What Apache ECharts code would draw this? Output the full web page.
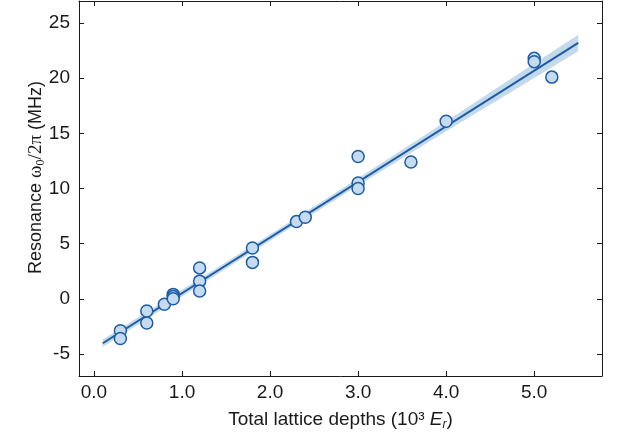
<!DOCTYPE html>
<html>
<head>
<meta charset="utf-8">
<style>
  html, body { margin: 0; padding: 0; background: #fff; }
  #chart { width: 617px; height: 439px; }
</style>
<script src="https://cdn.jsdelivr.net/npm/echarts@6/dist/echarts.min.js"></script>
</head>
<body>
<div id="chart"></div>
<script>
// Measured resonance vs total lattice depth
const depthX = [0.3, 0.3, 0.6, 0.6, 0.8, 0.9, 0.9, 0.9, 1.2, 1.2, 1.2, 1.8, 1.8, 2.3, 2.4, 3.0, 3.0, 3.0, 3.6, 4.0, 5.0, 5.0, 5.2];
const resonanceY = [-2.9, -3.6, -1.1, -2.2, -0.5, 0.4, 0.2, 0.0, 2.8, 1.6, 0.7, 4.6, 3.3, 7.0, 7.4, 12.9, 10.5, 10.0, 12.4, 16.1, 21.8, 21.5, 20.1];

// Linear fit endpoints
const fitX = [0.1, 5.5];
const fitY = [-4.03, 23.2];

// Confidence band around the fit
const bandX = [0.1, 1.0, 2.0, 3.0, 4.0, 5.0, 5.5];
const bandLow = [-4.38, 0.21, 5.27, 10.28, 15.19, 20.03, 22.45];
const bandHigh = [-3.68, 0.81, 5.83, 10.92, 16.09, 21.33, 23.95];

// Tick positions
const xTicks = [0, 1, 2, 3, 4, 5];
const yTicks = [-5, 0, 5, 10, 15, 20, 25];

const sans = '"Liberation Sans", Arial, Helvetica, sans-serif';
const serif = '"Liberation Serif", "Times New Roman", serif';
const black = '#1a1a1a';
const lineColor = '#1c5ba5';

const scatterData = depthX.map((x, i) => [x, resonanceY[i]]);
const fitData = fitX.map((x, i) => [x, fitY[i]]);
const bandData = bandX.map((x, i) => [x, bandLow[i], bandHigh[i]]);

const baseAxis = {
  axisLine: { show: true, onZero: false, lineStyle: { color: black, width: 1 } },
  splitLine: { show: false }
};

const chart = echarts.init(document.getElementById('chart'), null, { renderer: 'canvas' });

chart.setOption({
  animation: false,
  backgroundColor: '#fff',
  grid: { left: 79, right: 15, top: 1, bottom: 63, containLabel: false, outerBoundsMode: 'none' },
  xAxis: [
    Object.assign({}, baseAxis, {
      type: 'value', min: -0.17, max: 5.77, position: 'bottom',
      axisTick: { show: true, inside: true, length: 5, customValues: xTicks, lineStyle: { color: black } },
      axisLabel: {
        show: true, customValues: xTicks, margin: 7,
        fontFamily: sans, fontSize: 19, color: black,
        formatter: v => v.toFixed(1)
      },
      name: '{t|Total lattice depths (10³ }{e|E}{r|r}{t|)}',
      nameLocation: 'middle', nameGap: 33, nameMoveOverlap: false,
      nameTextStyle: {
        rich: {
          t: { fontFamily: sans, fontSize: 19, color: black, lineHeight: 22 },
          e: { fontFamily: sans, fontSize: 19, fontStyle: 'italic', color: black, lineHeight: 22 },
          r: { fontFamily: sans, fontSize: 12, fontStyle: 'italic', color: black, lineHeight: 14, verticalAlign: 'bottom' }
        }
      }
    }),
    Object.assign({}, baseAxis, {
      type: 'value', min: -0.17, max: 5.77, position: 'top',
      axisTick: { show: true, inside: true, length: 5, customValues: xTicks, lineStyle: { color: black } },
      axisLabel: { show: false }
    })
  ],
  yAxis: [
    Object.assign({}, baseAxis, {
      type: 'value', min: -7, max: 27, position: 'left',
      axisTick: { show: true, inside: true, length: 5, customValues: yTicks, lineStyle: { color: black } },
      axisLabel: {
        show: true, customValues: yTicks, margin: 9,
        fontFamily: sans, fontSize: 19, color: black
      },
      name: '{t|Resonance }{g|ω}{s|0}{g|/2π}{t| (MHz)}',
      nameLocation: 'middle', nameGap: 32, nameRotate: 90, nameMoveOverlap: false,
      nameTextStyle: {
        padding: [0, 0, 0, 22],
        rich: {
          t: { fontFamily: sans, fontSize: 18, color: black, lineHeight: 22 },
          g: { fontFamily: serif, fontSize: 19, color: black, lineHeight: 22 },
          s: { fontFamily: serif, fontSize: 12, color: black, lineHeight: 14, verticalAlign: 'bottom' }
        }
      }
    }),
    Object.assign({}, baseAxis, {
      type: 'value', min: -7, max: 27, position: 'right',
      axisTick: { show: true, inside: true, length: 5, customValues: yTicks, lineStyle: { color: black } },
      axisLabel: { show: false }
    })
  ],
  series: [
    {
      // Shaded confidence band drawn as a polygon through the axis scales
      type: 'custom',
      xAxisIndex: 0, yAxisIndex: 0,
      silent: true,
      z: 1,
      data: [0],
      renderItem: function (params, api) {
        const upper = bandData.map(d => api.coord([d[0], d[2]]));
        const lower = bandData.slice().reverse().map(d => api.coord([d[0], d[1]]));
        return {
          type: 'polygon',
          shape: { points: upper.concat(lower) },
          style: { fill: '#c3d9ec', stroke: null }
        };
      }
    },
    {
      type: 'line',
      xAxisIndex: 0, yAxisIndex: 0,
      data: fitData,
      showSymbol: false,
      z: 2,
      lineStyle: { color: lineColor, width: 2 }
    },
    {
      type: 'scatter',
      xAxisIndex: 0, yAxisIndex: 0,
      data: scatterData,
      symbol: 'circle',
      symbolSize: 12,
      z: 3,
      itemStyle: { color: '#c6dbef', borderColor: lineColor, borderWidth: 1.5, opacity: 1 }
    }
  ]
});
</script>
</body>
</html>
